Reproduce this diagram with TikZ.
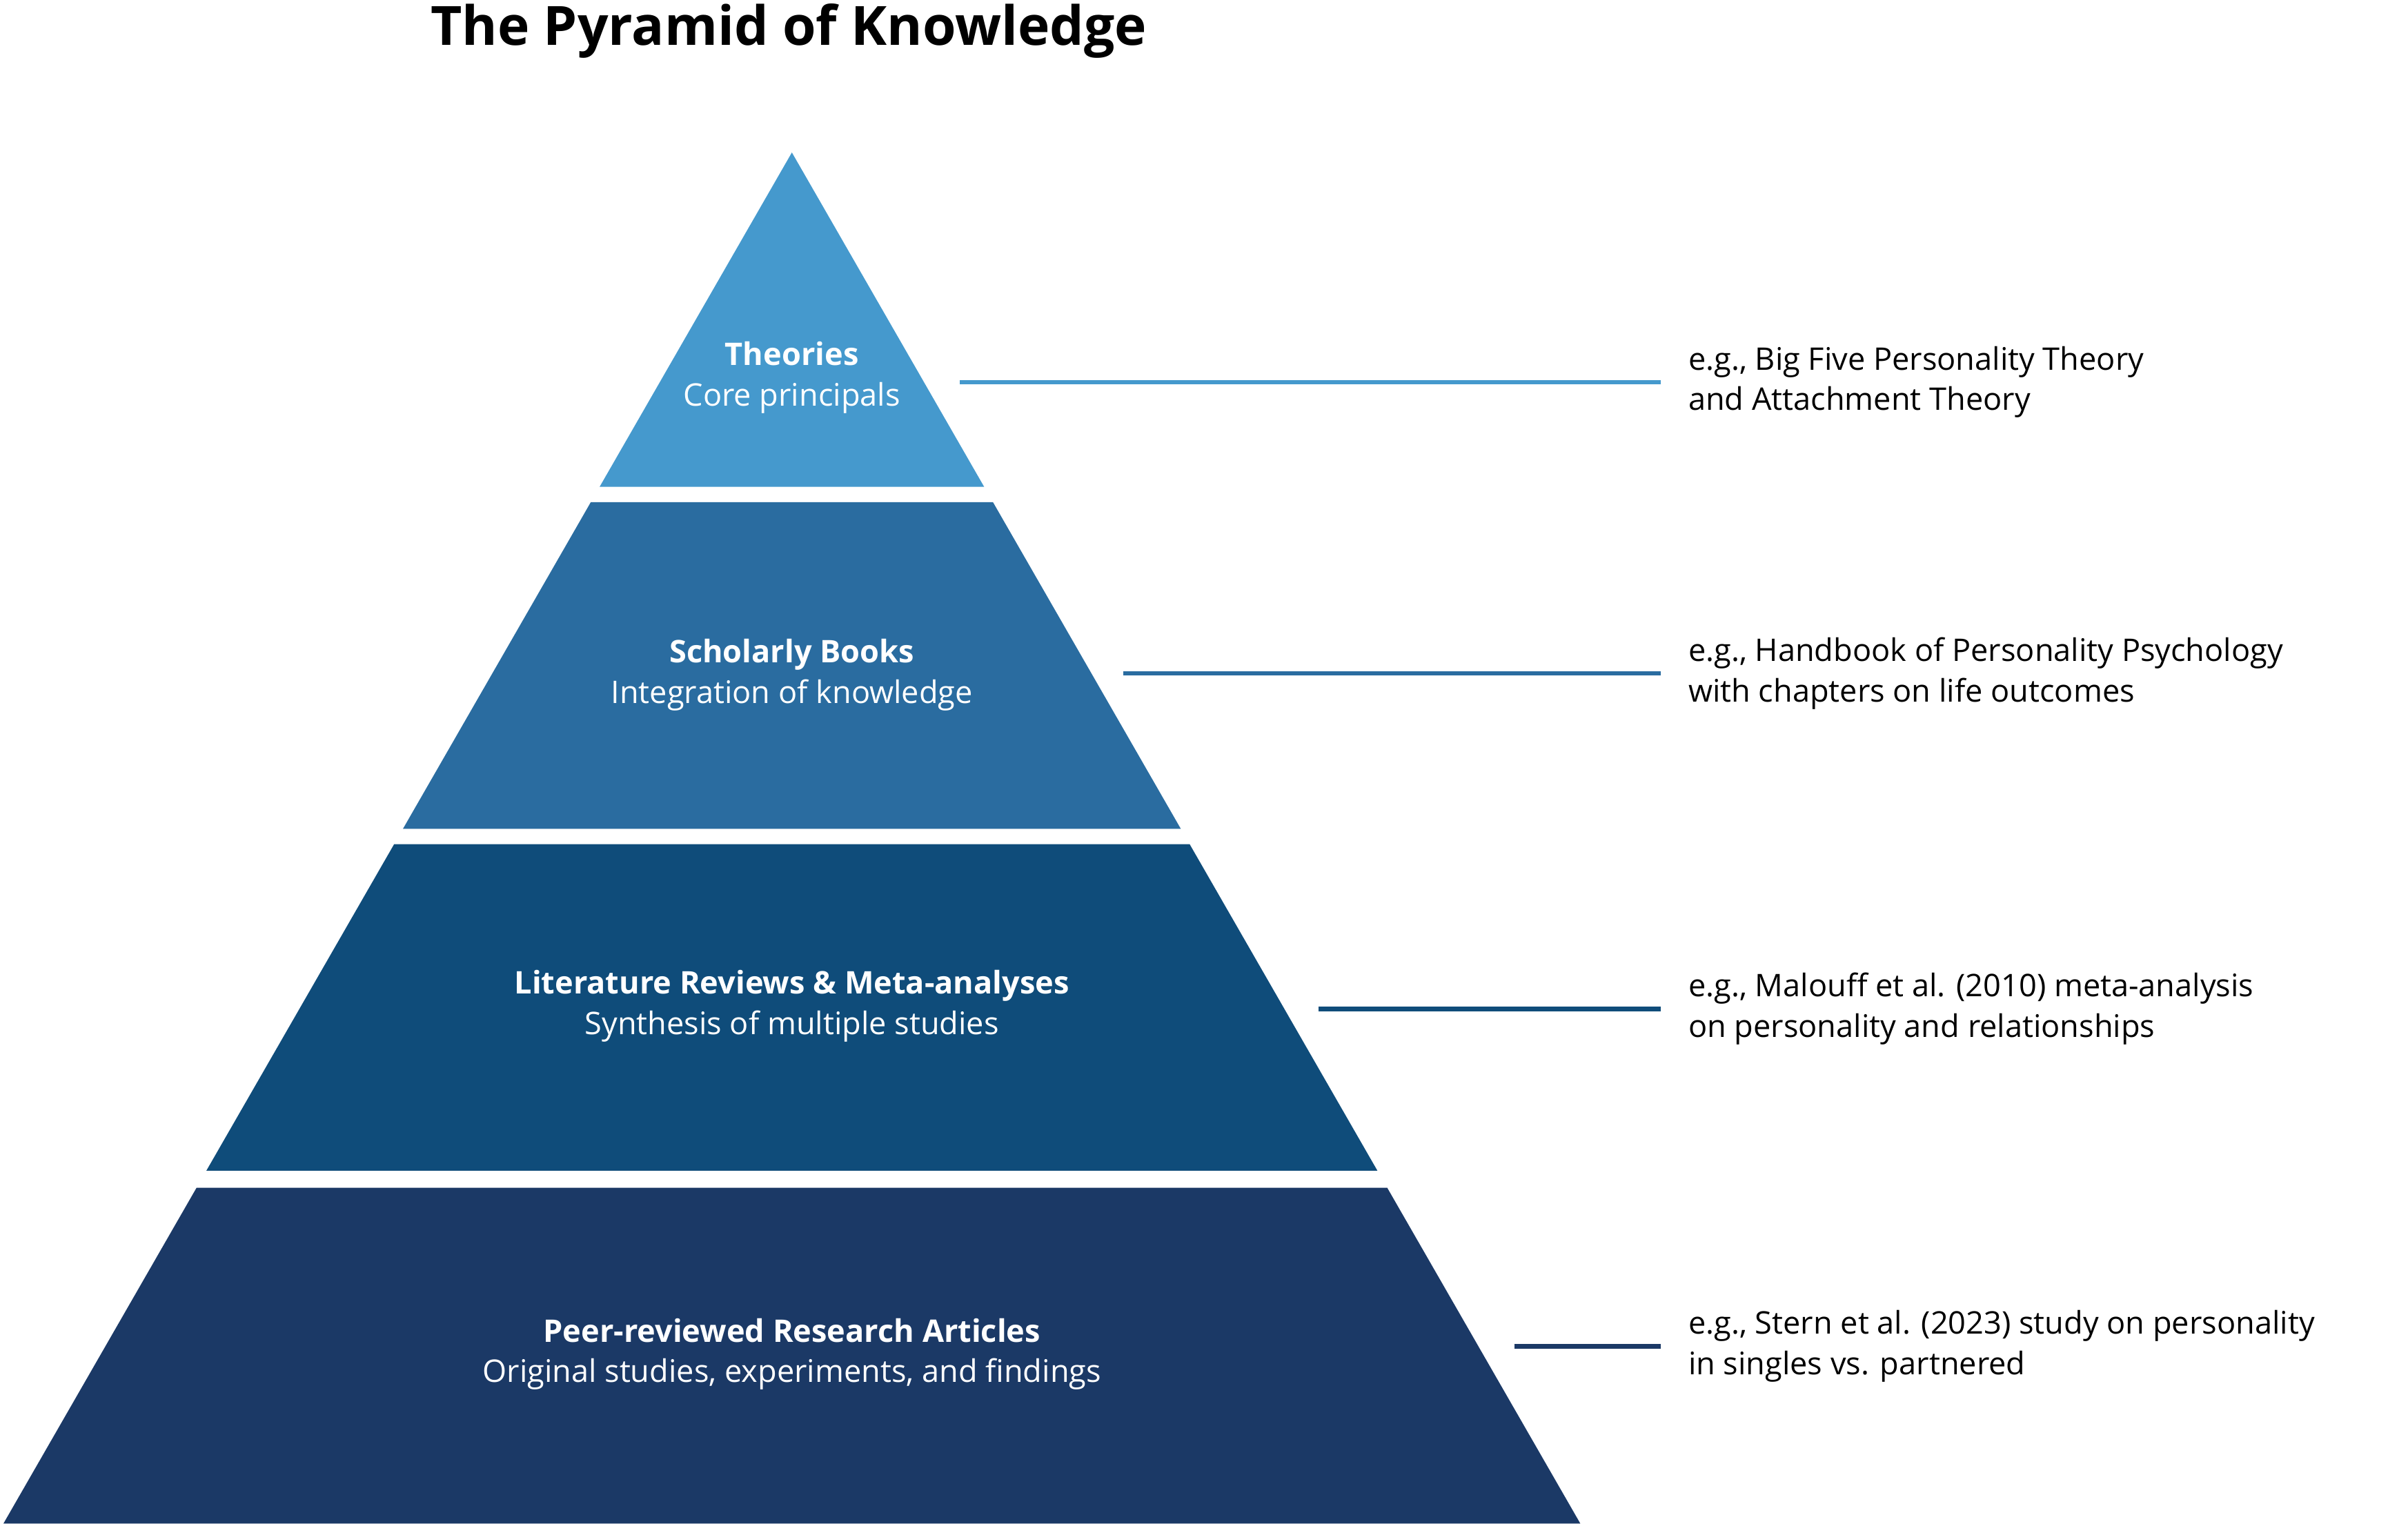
\documentclass[tikz,border=0pt]{standalone}
\usepackage{fontspec}
\setmainfont{Open Sans}
\definecolor{tierA}{HTML}{4599CD}
\definecolor{tierB}{HTML}{2A6CA0}
\definecolor{tierC}{HTML}{0F4C7A}
\definecolor{tierD}{HTML}{1B3966}
\tikzset{
  tierlabel/.style={align=center,text=white,font=\fontsize{11.5}{15}\selectfont},
  example/.style={anchor=west,align=left,inner xsep=10pt,font=\fontsize{11.5}{15}\selectfont},
  leader/.style={line width=1.6pt}
}
\begin{document}
\begin{tikzpicture}[x=0.02cm,y=-0.02cm]
\useasboundingbox (0,0) rectangle (1563,989);
% title
\node[font=\bfseries\fontsize{20}{24}\selectfont] (title) at (512,20) {The Pyramid of Knowledge};
% tiers: top, bottom, colour
\foreach \yt/\yb/\col in {99/316/tierA,326/538/tierB,548/760/tierC,771/989/tierD}{
  \pgfmathsetmacro{\ht}{0.575*(\yt-99)}
  \pgfmathsetmacro{\hb}{0.575*(\yb-99)}
  \fill[\col] (514-\ht,\yt) -- (514+\ht,\yt) -- (514+\hb,\yb) -- (514-\hb,\yb) -- cycle;
}
% labels
\node[tierlabel] (theo) at (514,245) {\textbf{Theories}\\Core principals};
\node[tierlabel] (books) at (514,438) {\textbf{Scholarly Books}\\Integration of knowledge};
\node[tierlabel] (revs) at (514,653) {\textbf{Literature Reviews \& Meta-analyses}\\Synthesis of multiple studies};
\node[tierlabel] (arts) at (514,879) {\textbf{Peer-reviewed Research Articles}\\Original studies, experiments, and findings};
% examples
\node[example] (exA) at (1078,248) {e.g., Big Five Personality Theory\\and Attachment Theory};
\node[example] (exB) at (1078,437) {e.g., Handbook of Personality Psychology\\with chapters on life outcomes};
\node[example] (exC) at (1078,655) {e.g., Malouff et al. (2010) meta-analysis\\on personality and relationships};
\node[example] (exD) at (1078,874) {e.g., Stern et al. (2023) study on personality\\in singles vs. partnered};
\coordinate (cA) at (623,248);
\coordinate (cB) at (729,437);
\coordinate (cC) at (856,655);
\coordinate (cD) at (983,874);
\draw[leader,tierA] (cA) -- (exA.west);
\draw[leader,tierB] (cB) -- (exB.west);
\draw[leader,tierC] (cC) -- (exC.west);
\draw[leader,tierD] (cD) -- (exD.west);
\end{tikzpicture}
\end{document}
